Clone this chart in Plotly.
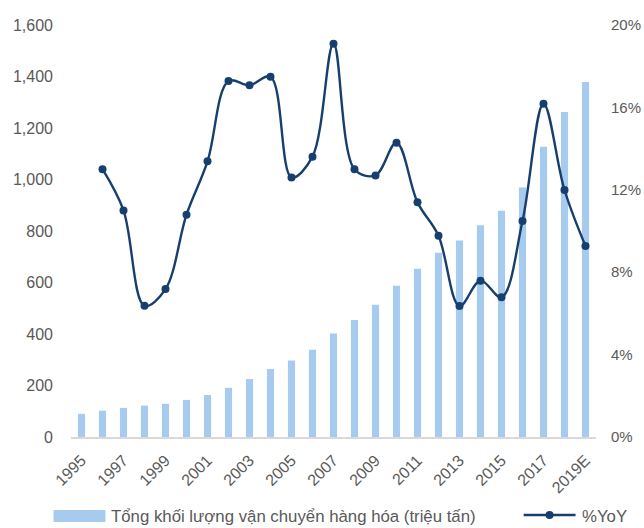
import plotly.graph_objects as go

years = ["1995", "1996", "1997", "1998", "1999", "2000", "2001", "2002", "2003", "2004",
         "2005", "2006", "2007", "2008", "2009", "2010", "2011", "2012", "2013", "2014",
         "2015", "2016", "2017", "2018", "2019E"]
volume = [90, 102, 113, 122, 129, 144, 163, 191, 225, 264,
          297, 339, 402, 454, 514, 587, 653, 716, 763, 822,
          879, 969, 1127, 1262, 1379]
yoy = [None, 0.130, 0.110, 0.0637, 0.0718, 0.1079, 0.1338, 0.1728, 0.1707, 0.1749,
       0.126, 0.1361, 0.1909, 0.130, 0.127, 0.1429, 0.1139, 0.0977, 0.0636, 0.0759,
       0.0678, 0.1049, 0.1618, 0.1199, 0.0927]
tick_years = ["1995", "1997", "1999", "2001", "2003", "2005", "2007", "2009", "2011",
              "2013", "2015", "2017", "2019E"]
bar_name = "Tổng khối lượng vận chuyển hàng hóa (triệu tấn)"
line_name = "%YoY"

BAR_C = "#A6CBEF"
LINE_C = "#173F6E"
GRAY = "#595959"
FONT = "Liberation Sans, Arial, sans-serif"

fig = go.Figure()
fig.add_trace(go.Bar(x=years, y=volume, name=bar_name, marker_color=BAR_C,
                     marker_line_width=0, yaxis="y"))
fig.add_trace(go.Scatter(x=years, y=yoy, name=line_name, mode="lines+markers",
                         line=dict(color=LINE_C, width=2.4, shape="spline", smoothing=1.0),
                         marker=dict(color=LINE_C, size=8), yaxis="y2", connectgaps=False))

W, H = 644, 528
L, R, T, B = 70.5, 47.5, 25, 91
pw, ph = W - L - R, H - T - B

def px_x(p):
    return (p - L) / pw

def px_y(p):
    return (H - B - p) / ph

fig.update_layout(
    width=W, height=H,
    margin=dict(l=L, r=R, t=T, b=B, pad=0, autoexpand=False),
    paper_bgcolor="white", plot_bgcolor="white",
    font=dict(family=FONT, size=16, color=GRAY),
    showlegend=False,
    bargap=0.66,
    xaxis=dict(type="category", tickmode="array", tickvals=tick_years, ticktext=tick_years,
               tickangle=-45, showgrid=False, showline=True, linecolor="#D9D9D9", linewidth=1.5,
               ticks="", ticklabelstandoff=6, tickfont=dict(size=16, color=GRAY),
               range=[-0.5, 24.5], automargin=False),
    yaxis=dict(range=[0, 1600], dtick=200, tickformat=",", showgrid=False, zeroline=False,
               showline=False, ticks="", ticklabelstandoff=17, tickfont=dict(size=16, color=GRAY),
               automargin=False),
    yaxis2=dict(range=[0, 0.20], dtick=0.04, tickformat=".0%", overlaying="y", side="right",
                showgrid=False, zeroline=False, showline=False,
                ticks="outside", ticklen=11, tickcolor="rgba(0,0,0,0)",
                tickfont=dict(size=15, color=GRAY), automargin=False),
)

# custom legend
leg_y = 516
fig.add_shape(type="rect", xref="paper", yref="paper",
              x0=px_x(53), x1=px_x(105), y0=px_y(522), y1=px_y(510),
              fillcolor=BAR_C, line_width=0)
fig.add_annotation(xref="paper", yref="paper", x=px_x(109), y=px_y(leg_y), text=bar_name,
                   showarrow=False, xanchor="left", yanchor="middle",
                   font=dict(family=FONT, size=16.8, color=GRAY))
fig.add_shape(type="line", xref="paper", yref="paper",
              x0=px_x(524), x1=px_x(576), y0=px_y(515), y1=px_y(515),
              line=dict(color=LINE_C, width=2.4))
fig.add_shape(type="circle", xref="paper", yref="paper",
              x0=px_x(546), x1=px_x(554), y0=px_y(519), y1=px_y(511),
              fillcolor=LINE_C, line_width=0)
fig.add_annotation(xref="paper", yref="paper", x=px_x(580), y=px_y(leg_y), text=line_name,
                   showarrow=False, xanchor="left", yanchor="middle",
                   font=dict(family=FONT, size=16.8, color=GRAY))

fig.write_html("out.html")
